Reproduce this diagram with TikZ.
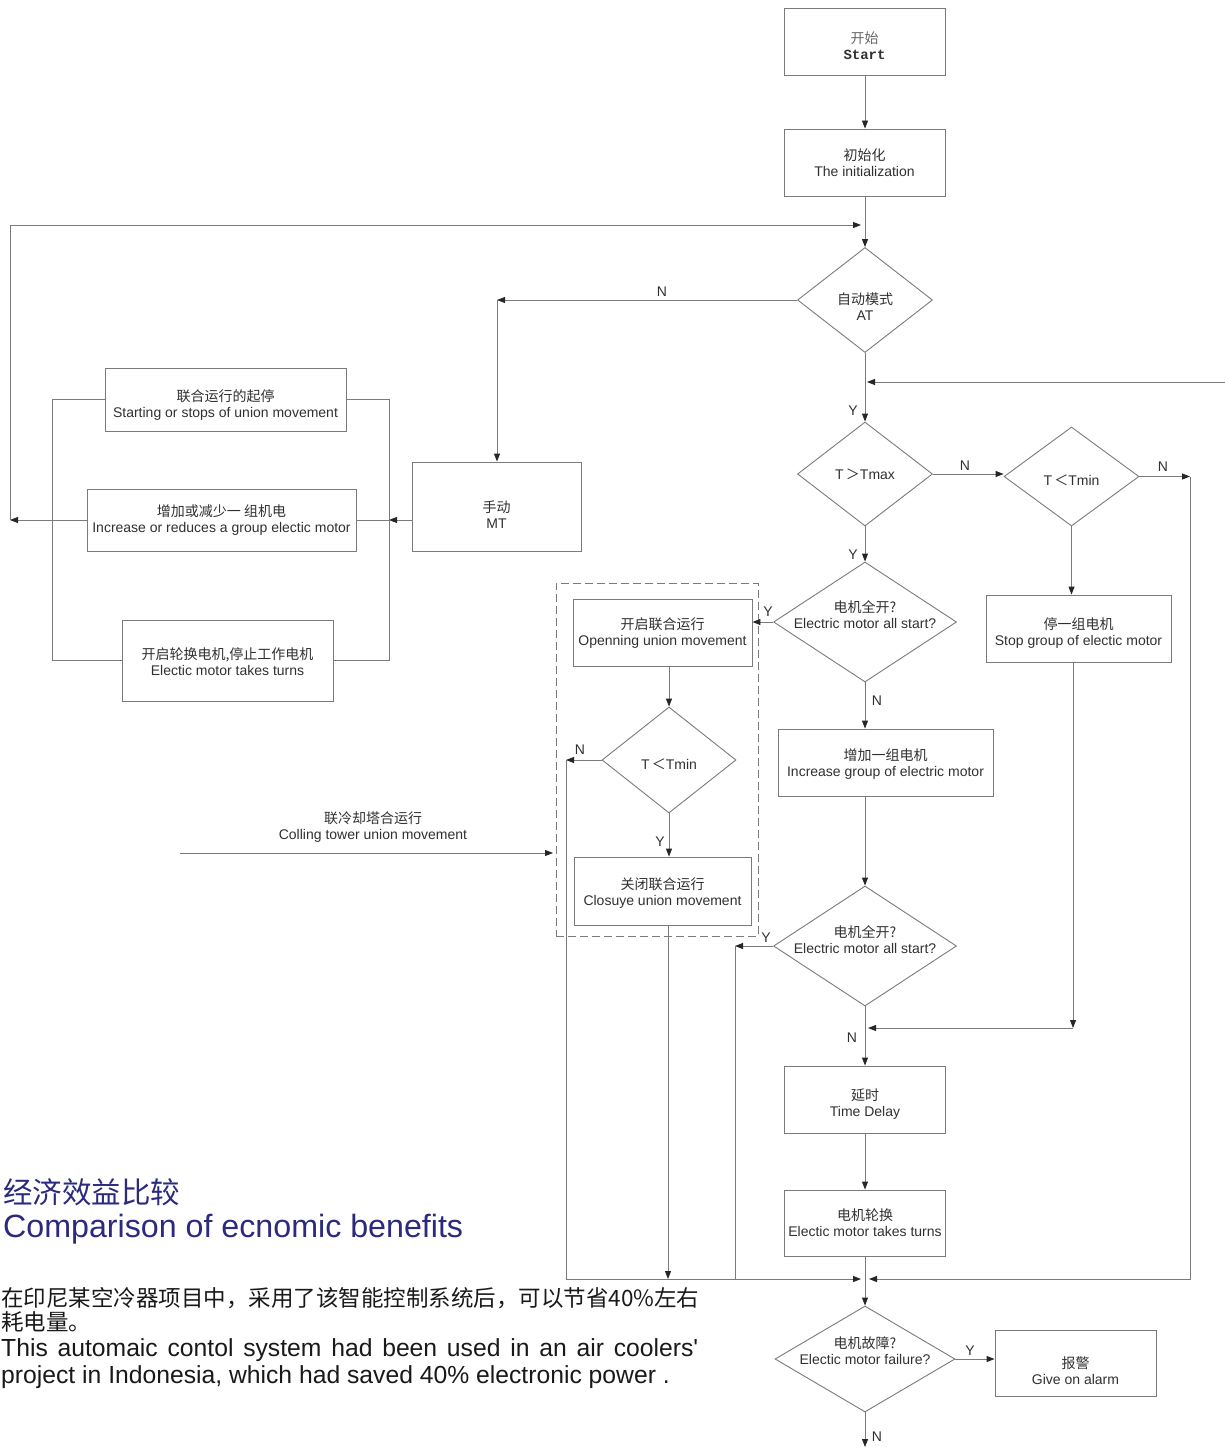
\documentclass[tikz,border=0pt]{standalone}
\usepackage{fontspec}
\setmainfont{Liberation Sans}
\setmonofont{Liberation Mono}
\newfontfamily\cjk{Noto Sans CJK SC}
\newfontfamily\plainsans{Liberation Sans}
\usetikzlibrary{shapes.geometric,arrows.meta,calc}
\definecolor{ln}{HTML}{7A7A7A}
\definecolor{tx}{HTML}{303030}
\definecolor{navy}{HTML}{2B2A7C}
\begin{document}
\begin{tikzpicture}[x=1pt,y=-1pt,
  line/.style={draw=ln, line width=0.9pt},
  arr/.style={line, -{Triangle[length=8pt,width=6pt,color=black!85]}},
  box/.style={draw=ln, line width=0.9pt, rectangle, inner sep=0pt},
  dia/.style={draw=ln, line width=0.9pt, diamond, inner sep=0pt},
  dtext/.style={align=center, text=tx, font=\fontsize{14}{16}\selectfont, inner sep=0pt},
  yn/.style={text=tx, font=\fontsize{14}{16}\selectfont, inner sep=0pt}
]
\useasboundingbox (0,0) rectangle (1225,1447);

% ---------- main column ----------
\node[box, minimum width=161pt, minimum height=67pt,
  label={[dtext,yshift=-4pt]center:{\cjk\color{black!60}开始}\\{\ttfamily\bfseries Start}}] (start) at (864.5,41.5) {};
\node[box, minimum width=161pt, minimum height=67pt,
  label={[dtext]center:{\cjk 初始化}\\The initialization}] (init) at (864.5,162.5) {};
\node[dia, minimum width=135pt, minimum height=105pt,
  label={[dtext,yshift=-7pt]center:{\cjk 自动模式}\\AT}] (at) at (865,300) {};
\node[dia, minimum width=135pt, minimum height=104pt,
  label={[dtext]center:T\,{\cjk ＞}Tmax}] (tmax) at (865,474) {};
\node[dia, minimum width=135pt, minimum height=99pt,
  label={[dtext,yshift=-4pt]center:T\,{\cjk ＜}Tmin}] (tmin) at (1071.5,476.5) {};
\node[dia, minimum width=183pt, minimum height=120pt,
  label={[dtext,yshift=7pt]center:{\cjk 电机全开?}\\Electric motor all start?}] (em1) at (865,622) {};
\node[box, minimum width=185pt, minimum height=67pt,
  label={[dtext,yshift=-5pt]center:{\cjk 停一组电机}\\Stop group of electic motor}] (stop) at (1078.5,628.5) {};
\node[box, minimum width=215pt, minimum height=67pt,
  label={[dtext,yshift=-2pt]center:{\cjk 增加一组电机}\\Increase group of electric motor}] (inc) at (885.5,762.5) {};
\node[dia, minimum width=183pt, minimum height=120pt,
  label={[dtext,yshift=6pt]center:{\cjk 电机全开?}\\Electric motor all start?}] (em2) at (865,946) {};
\node[box, minimum width=161pt, minimum height=67pt,
  label={[dtext,yshift=-5pt]center:{\cjk 延时}\\Time Delay}] (delay) at (865,1099.5) {};
\node[box, minimum width=161pt, minimum height=66pt,
  label={[dtext]center:{\cjk 电机轮换}\\Electic motor takes turns}] (rot) at (865,1223) {};
\node[dia, minimum width=180pt, minimum height=106pt,
  label={[dtext,yshift=8pt]center:{\cjk 电机故障?}\\Electic motor failure?}] (fail) at (865,1359) {};
\node[box, minimum width=161pt, minimum height=66pt,
  label={[dtext,yshift=-8pt]center:{\cjk 报警}\\Give on alarm}] (alarm) at (1075.5,1363) {};

% ---------- dashed group ----------
\node[draw=ln, line width=0.9pt, dash pattern=on 8pt off 4pt, minimum width=202pt,
  minimum height=353pt, inner sep=0pt] (grp) at (657,759.5) {};
\node[box, minimum width=179pt, minimum height=67pt,
  label={[dtext,yshift=-1pt]center:{\cjk 开启联合运行}\\Openning union movement}] (open) at (662.5,632.5) {};
\node[dia, minimum width=134pt, minimum height=106pt,
  label={[dtext,yshift=-4pt]center:T\,{\cjk ＜}Tmin}] (tmin2) at (669,760) {};
\node[box, minimum width=177pt, minimum height=68pt,
  label={[dtext,yshift=-2pt]center:{\cjk 关闭联合运行}\\Closuye union movement}] (close) at (662.5,891) {};

% ---------- manual part ----------
\node[box, minimum width=169pt, minimum height=89pt,
  label={[dtext,yshift=-8pt]center:{\cjk 手动}\\MT}] (mt) at (496.5,506.5) {};
\node[box, minimum width=241pt, minimum height=63pt,
  label={[dtext,yshift=-6pt]center:{\cjk 联合运行的起停}\\Starting or stops of union movement}] (lb1) at (225.5,399.5) {};
\node[box, minimum width=269pt, minimum height=62pt,
  label={[dtext]center:{\cjk 增加或减少一 组机电}\\Increase or reduces a group electic motor}] (lb2) at (221.5,520) {};
\node[box, minimum width=211pt, minimum height=81pt,
  label={[dtext,yshift=-1pt]center:{\cjk 开启轮换电机,停止工作电机}\\Electic motor takes turns}] (lb3) at (227.5,660.5) {};

\node[dtext] (ctl) at (373,827) {{\cjk 联冷却塔合运行}\\Colling tower union movement};

% ---------- coordinates ----------
\coordinate (lpt) at (10,520);
\coordinate (jtop) at (861,225);
\coordinate (mtc) at (497,300);
\coordinate (rj) at (389,520);
\coordinate (fl) at (52,0);
\coordinate (fr) at (389,0);
\coordinate (rin) at (1225,382);
\coordinate (j382) at (867,382);
\coordinate (rr) at (1190,476.5);
\coordinate (bR) at (869,1279);
\coordinate (bL) at (861,1279);
\coordinate (sd) at (1073,1028);
\coordinate (jm) at (868,1028);
\coordinate (y2) at (735,946);
\coordinate (y2b) at (735,1279);
\coordinate (n2) at (566,760);
\coordinate (cb) at (668,1279);
\coordinate (fend) at (865,1447);
\coordinate (ct0) at (180,853);
\coordinate (ct1) at (553,853);

% ---------- connectors ----------
\draw[arr] (start.south -| at.north) -- (init.north -| at.north);
\draw[arr] (init.south -| at.north) -- (at.north);
\draw[arr] (lb2.west) -- (lpt);
\draw[arr] (lpt) |- (jtop);
\draw[arr] (at.west) -- (mtc);
\draw[arr] (mtc) -- (mtc |- mt.north);
\draw[arr] (mt.west |- rj) -- (rj);
\draw[line] (rj) -- (lb2.east);
\draw[line] (lb1.west) -| (fl |- lb3.west) -- (lb3.west);
\draw[line] (lb1.east) -| (fr |- lb3.east) -- (lb3.east);

\draw[arr] (at.south) -- (tmax.north);
\draw[arr] (rin) -- (j382);
\draw[arr] (tmax.east) -- (tmax.east -| tmin.west);
\draw[arr] (tmin.east) -- (rr);
\draw[arr] (rr) |- (bR);
\draw[arr] (tmin.south) -- (tmin.south |- stop.north);
\draw[arr] (sd |- stop.south) -- (sd);
\draw[arr] (sd) -- (jm);

\draw[arr] (tmax.south) -- (em1.north);
\draw[arr] (em1.west) -- (em1.west -| open.east);
\draw[arr] (em1.south) -- (em1.south |- inc.north);
\draw[arr] (em2.north |- inc.south) -- (em2.north);
\draw[arr] (em2.west) -- (y2);
\draw[line] (y2) -- (y2b);
\draw[arr] (em2.south) -- (delay.north);
\draw[arr] (delay) -- (rot);
\draw[arr] (rot.south) -- (fail.north);
\draw[arr] (fail.east) -- (fail.east -| alarm.west);
\draw[arr] (fail.south) -- (fend);

\draw[arr] (tmin2.north |- open.south) -- (tmin2.north);
\draw[arr] (tmin2.south) -- (tmin2.south |- close.north);
\draw[arr] (tmin2.west) -- (n2);
\draw[arr] (n2) |- (bL);
\draw[arr] (cb |- close.south) -- (cb);
\draw[arr] (ct0) -- (ct1);

% ---------- Y / N labels ----------
\node[yn] (l1) at (662,292) {N};
\node[yn] (l2) at (853,411) {Y};
\node[yn] (l3) at (965,466) {N};
\node[yn] (l4) at (1163,467) {N};
\node[yn] (l5) at (853,555) {Y};
\node[yn] (l6) at (768,612) {Y};
\node[yn] (l7) at (877,701) {N};
\node[yn] (l8) at (766,938) {Y};
\node[yn] (l9) at (852,1038) {N};
\node[yn] (l10) at (970,1351) {Y};
\node[yn] (l11) at (877,1437) {N};
\node[yn] (l12) at (580,750) {N};
\node[yn] (l13) at (660,842) {Y};

% ---------- bottom-left text ----------
\node[anchor=base west, inner sep=0pt, text=navy, font=\cjk\fontsize{29.5}{32}\selectfont]
  (t1) at (3,1203) {经济效益比较};
\node[anchor=base west, inner sep=0pt, text=navy, font=\fontsize{32.2}{34}\selectfont]
  (t2) at (3,1237) {Comparison of ecnomic benefits};
\node[anchor=base west, inner sep=0pt, text=black!90, font=\cjk\fontsize{22.5}{24}\selectfont]
  (t3) at (1,1306) {在印尼某空冷器项目中，采用了该智能控制系统后，可以节省40\%左右};
\node[anchor=base west, inner sep=0pt, text=black!90, font=\cjk\fontsize{22.5}{24}\selectfont]
  (t4) at (1,1330) {耗电量。};
\node[anchor=base west, inner sep=0pt, text=black!90, font=\plainsans\fontsize{24.7}{27}\selectfont]
  (t5) at (1,1356) {\makebox[697pt][s]{This automaic contol system had been used in an air coolers'}};
\node[anchor=base west, inner sep=0pt, text=black!90, font=\fontsize{24.7}{27}\selectfont]
  (t6) at (1,1383) {project in Indonesia, which had saved 40\% electronic power .};
\end{tikzpicture}
\end{document}
